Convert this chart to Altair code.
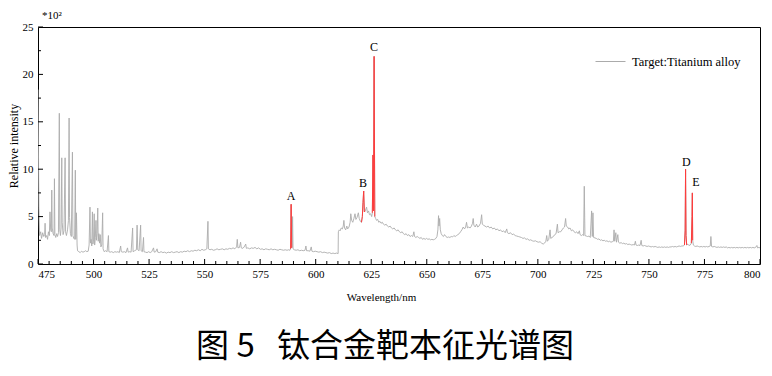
import altair as alt
import pandas as pd

# ---------------- data ----------------
LEGEND_LABEL = "Target:Titanium alloy"

SEG_475_510 = [
    (475.0, 18.4), (475.4, 6.0), (475.7, 3.0), (476.2, 3.4), (476.6, 2.7), (477.1, 3.3),
    (477.6, 2.9), (478.0, 3.1), (478.2, 4.3), (478.4, 2.8), (478.9, 3.0), (479.3, 2.6),
    (479.7, 3.4), (480.1, 3.0), (480.4, 5.5), (480.7, 3.6), (481.0, 3.4), (481.2, 7.8),
    (481.4, 3.8), (481.8, 3.2), (482.2, 3.0), (482.4, 9.0), (482.6, 3.1), (483.0, 2.8),
    (483.4, 3.2), (483.8, 2.9), (484.2, 3.3), (484.6, 15.9), (484.8, 3.6), (485.1, 3.0),
    (485.4, 3.8), (485.7, 11.2), (485.9, 4.4), (486.3, 3.1), (486.7, 3.5), (487.2, 11.2),
    (487.4, 3.4), (487.8, 3.0), (488.3, 3.6), (488.7, 4.6), (489.0, 15.4), (489.2, 4.9),
    (489.6, 3.2), (490.0, 2.9), (490.5, 11.8), (490.7, 3.0), (491.1, 2.7), (491.5, 2.6),
    (491.8, 9.9), (492.0, 2.6), (492.3, 5.4), (492.6, 2.0), (492.8, 1.4), (493.4, 1.3),
    (494.0, 1.2), (494.6, 1.35), (495.2, 1.25), (495.8, 1.3), (496.4, 1.4), (497.0, 1.3),
    (497.6, 1.35), (498.0, 2.0), (498.4, 6.0), (498.6, 2.2), (498.9, 2.6), (499.2, 1.9),
    (499.5, 5.5), (499.7, 2.1), (500.0, 2.4), (500.3, 5.3), (500.5, 2.0), (500.8, 2.8),
    (501.1, 4.6), (501.3, 2.5), (501.6, 3.2), (501.9, 5.9), (502.1, 2.4), (502.4, 3.2),
    (502.7, 2.2), (503.0, 3.1), (503.3, 1.8), (503.7, 2.0), (504.1, 5.4), (504.3, 1.6),
    (504.8, 1.3), (505.4, 1.4), (506.1, 1.3), (506.7, 3.0), (506.9, 1.3), (507.5, 1.25),
    (508.2, 1.3), (508.9, 1.2), (509.6, 1.3),
]

SEG_510_550 = [
    (510.3, 1.25), (511.0, 1.3), (511.6, 1.2), (512.2, 1.9), (512.5, 1.3), (513.2, 1.25),
    (513.9, 1.3), (514.6, 1.2), (515.3, 1.7), (515.6, 1.25), (516.3, 1.3), (516.9, 1.25),
    (517.6, 3.8), (517.8, 1.3), (518.5, 1.4), (519.3, 1.5), (519.6, 4.1), (519.9, 1.5),
    (520.5, 1.4), (521.2, 4.1), (521.4, 1.4), (522.0, 1.3), (522.5, 2.8), (522.7, 1.3),
    (523.4, 1.25), (524.1, 1.2), (524.8, 1.3), (525.5, 1.2), (526.2, 1.3), (527.0, 1.7),
    (527.3, 1.25), (528.0, 1.3), (528.6, 1.6), (528.9, 1.25), (529.6, 1.2), (530.4, 1.3),
    (531.2, 1.2), (532.0, 1.25), (532.8, 1.15), (533.6, 1.25), (534.4, 1.2), (535.2, 1.3),
    (536.0, 1.2), (536.8, 1.25), (537.6, 1.3), (538.4, 1.2), (539.2, 1.3), (540.0, 1.25),
    (540.8, 1.35), (541.6, 1.3), (542.4, 1.4), (543.2, 1.3), (544.0, 1.4), (544.8, 1.35),
    (545.6, 1.45), (546.4, 1.4), (547.2, 1.5), (548.0, 1.4), (548.8, 1.55), (549.6, 1.45),
]

SEG_550_610 = [
    (550.3, 1.5), (551.0, 1.6), (551.5, 4.5), (551.7, 1.6), (552.4, 1.5), (553.2, 1.55),
    (554.0, 1.45), (554.8, 1.5), (555.6, 1.6), (556.4, 1.5), (557.2, 1.55), (558.0, 1.6),
    (558.8, 1.5), (559.6, 1.6), (560.4, 1.55), (561.2, 1.65), (562.0, 1.6), (562.8, 1.7),
    (563.6, 1.6), (564.4, 1.8), (564.7, 2.6), (565.0, 1.7), (565.7, 1.75), (566.2, 2.3),
    (566.5, 1.7), (567.2, 1.65), (567.8, 1.8), (568.5, 2.1), (568.8, 1.65), (569.5, 1.7),
    (570.3, 1.6), (571.1, 1.7), (571.9, 1.65), (572.7, 1.75), (573.5, 1.6), (574.3, 1.7),
    (575.1, 1.55), (575.9, 1.6), (576.7, 1.5), (577.5, 1.6), (578.3, 1.55), (579.1, 1.5),
    (579.9, 1.6), (580.7, 1.5), (581.5, 1.55), (582.3, 1.5), (583.1, 1.45), (583.9, 1.55),
    (584.7, 1.5), (585.5, 1.45), (586.3, 1.5), (587.1, 1.45), (587.8, 1.5), (588.4, 1.45),
    (588.7, 1.6), (588.95, 6.3), (589.2, 1.7), (589.4, 1.8), (589.6, 5.0), (589.8, 1.6),
    (590.4, 1.5), (591.2, 1.45), (592.0, 1.5), (592.8, 1.4), (593.6, 1.45), (594.4, 1.4),
    (595.2, 1.45), (595.6, 1.9), (595.9, 1.4), (596.6, 1.4), (597.4, 1.35), (598.0, 1.8),
    (598.3, 1.35), (599.0, 1.3), (599.8, 1.35), (600.6, 1.3), (601.4, 1.25), (602.2, 1.3),
    (603.0, 1.2), (603.8, 1.25), (604.6, 1.2), (605.4, 1.15), (606.2, 1.2), (607.0, 1.1),
    (607.8, 1.15), (608.6, 1.1), (609.4, 1.15), (610.1, 1.1),
]

SEG_610_660 = [
    (610.2, 3.4), (610.6, 3.6), (611.0, 3.5), (611.5, 3.8), (612.0, 3.7), (612.4, 4.0),
    (612.7, 4.6), (613.0, 3.8), (613.5, 3.6), (614.0, 4.0), (614.4, 3.7), (615.0, 3.9),
    (615.5, 4.4), (615.8, 5.3), (616.2, 4.6), (616.7, 4.4), (617.2, 4.8), (617.7, 5.3),
    (618.1, 4.7), (618.6, 4.9), (619.2, 5.4), (619.6, 4.8), (620.1, 4.5), (620.6, 4.4),
    (621.0, 5.0), (621.3, 6.5), (621.6, 7.7), (621.9, 5.5), (622.3, 5.6), (622.9, 6.0),
    (623.3, 5.4), (623.8, 5.6), (624.2, 5.2), (624.7, 5.3), (625.2, 5.0), (625.5, 5.4),
    (625.8, 11.5), (626.0, 5.6), (626.3, 21.9), (626.6, 5.0), (627.0, 4.8), (627.4, 4.6),
    (627.9, 4.7), (628.4, 4.4), (628.9, 4.5), (629.4, 4.3), (630.0, 4.4), (630.5, 4.2),
    (631.1, 4.1), (631.7, 4.2), (632.3, 4.0), (632.9, 3.9), (633.5, 4.0), (634.1, 3.8),
    (634.7, 3.7), (635.3, 3.8), (635.9, 3.6), (636.5, 3.5), (637.1, 3.6), (637.7, 3.4),
    (638.3, 3.3), (638.9, 3.4), (639.5, 3.2), (640.1, 3.1), (640.7, 3.2), (641.3, 3.0),
    (641.9, 3.1), (642.5, 2.9), (643.1, 3.0), (643.7, 2.9), (644.2, 3.4), (644.5, 2.9),
    (645.1, 2.8), (645.7, 2.9), (646.3, 2.8), (646.9, 2.7), (647.5, 2.8), (648.1, 2.6),
    (648.7, 2.7), (649.3, 2.6), (649.9, 2.7), (650.5, 2.6), (651.1, 2.65), (651.7, 2.55),
    (652.3, 2.6), (652.9, 2.55), (653.5, 2.6), (654.1, 2.7), (654.6, 2.9), (655.0, 3.6),
    (655.3, 5.1), (655.5, 4.0), (655.8, 4.8), (656.1, 3.6), (656.5, 3.2), (657.0, 3.0),
    (657.5, 2.9), (658.0, 3.1), (658.6, 2.9), (659.2, 2.8),
]

SEG_660_710 = [
    (659.8, 2.85), (660.4, 2.8), (661.0, 2.9), (661.6, 2.85), (662.2, 3.0), (662.8, 2.9),
    (663.4, 3.0), (664.0, 3.1), (664.6, 3.2), (665.2, 3.4), (665.8, 3.6), (666.4, 3.9),
    (667.0, 3.7), (667.5, 3.9), (667.9, 4.4), (668.3, 3.8), (668.9, 3.9), (669.5, 3.8),
    (670.1, 4.0), (670.6, 4.3), (670.9, 4.8), (671.2, 4.1), (671.8, 3.9), (672.4, 4.2),
    (672.9, 3.9), (673.5, 4.0), (674.2, 4.3), (674.7, 5.2), (675.0, 4.2), (675.5, 4.1),
    (676.2, 4.0), (676.9, 3.9), (677.6, 4.0), (678.3, 3.8), (679.0, 3.9), (679.7, 3.7),
    (680.4, 3.8), (681.1, 3.6), (681.8, 3.7), (682.5, 3.5), (683.2, 3.6), (683.9, 3.4),
    (684.6, 3.5), (685.3, 3.3), (686.0, 3.7), (686.3, 3.3), (687.0, 3.2), (687.7, 3.3),
    (688.4, 3.1), (689.1, 3.15), (689.8, 3.0), (690.5, 2.95), (691.2, 2.9), (691.9, 2.85),
    (692.6, 2.8), (693.3, 2.7), (694.0, 2.75), (694.7, 2.6), (695.4, 2.65), (696.1, 2.5),
    (696.8, 2.55), (697.5, 2.45), (698.2, 2.4), (698.9, 2.45), (699.6, 2.35), (700.3, 2.3),
    (701.0, 2.35), (701.7, 2.2), (702.4, 2.1), (703.0, 2.2), (703.6, 2.4), (704.0, 3.0),
    (704.3, 2.4), (704.9, 2.6), (705.5, 3.6), (705.8, 2.7), (706.4, 2.8), (707.0, 2.9),
    (707.6, 3.1), (708.2, 3.2), (708.8, 4.2), (709.1, 3.3), (709.7, 3.4),
]

SEG_710_760 = [
    (710.3, 3.4), (710.9, 3.6), (711.5, 3.8), (712.0, 3.9), (712.5, 4.8), (712.8, 4.0),
    (713.4, 3.9), (713.9, 3.7), (714.5, 3.8), (715.1, 3.5), (715.7, 3.6), (716.3, 3.4),
    (716.9, 3.3), (717.5, 3.4), (718.1, 3.2), (718.7, 3.5), (719.0, 3.1), (719.6, 3.0),
    (720.2, 3.1), (720.6, 3.0), (720.9, 8.2), (721.2, 3.0), (721.8, 2.95), (722.4, 2.9),
    (723.0, 2.95), (723.6, 2.8), (724.2, 5.6), (724.5, 2.9), (724.8, 5.4), (725.1, 2.8),
    (725.7, 2.75), (726.3, 2.7), (726.9, 2.6), (727.5, 2.65), (728.1, 2.5), (728.7, 2.55),
    (729.3, 2.45), (729.9, 2.5), (730.5, 2.4), (731.1, 2.45), (731.7, 2.35), (732.3, 2.4),
    (732.9, 2.3), (733.5, 2.35), (734.0, 2.4), (734.3, 3.6), (734.6, 2.4), (735.1, 3.3),
    (735.4, 2.3), (736.0, 3.1), (736.3, 2.3), (736.9, 2.2), (737.5, 2.25), (738.1, 2.15),
    (738.7, 2.2), (739.3, 2.1), (739.9, 2.15), (740.5, 2.05), (741.1, 2.1), (741.7, 2.05),
    (742.3, 2.0), (742.9, 2.05), (743.5, 2.0), (743.9, 2.4), (744.2, 2.0), (744.8, 1.95),
    (745.4, 2.0), (746.0, 1.95), (746.5, 2.5), (746.8, 1.95), (747.4, 1.9), (748.0, 1.95),
    (748.6, 1.9), (749.2, 1.85), (749.8, 1.9), (750.4, 1.85), (751.0, 1.8), (751.6, 1.85),
    (752.2, 1.8), (752.8, 1.85), (753.4, 1.8), (754.0, 1.75), (754.6, 1.8), (755.2, 1.75),
    (755.8, 1.8), (756.4, 1.75), (757.0, 1.8), (757.6, 1.75), (758.2, 1.8), (758.8, 1.75),
    (759.4, 1.8),
]

SEG_760_800 = [
    (760.0, 1.8), (760.6, 1.85), (761.2, 1.8), (761.8, 1.85), (762.4, 1.8), (763.0, 1.85),
    (763.6, 1.9), (764.2, 1.85), (764.8, 1.9), (765.4, 1.9), (766.0, 2.0), (766.3, 3.5),
    (766.5, 10.0), (766.7, 3.0), (767.0, 2.0), (767.5, 2.1), (768.0, 1.95), (768.6, 2.0),
    (769.1, 2.2), (769.4, 5.0), (769.55, 7.5), (769.7, 2.5), (770.0, 2.0), (770.5, 1.9),
    (771.1, 1.85), (771.7, 1.9), (772.3, 1.85), (772.9, 1.8), (773.5, 1.85), (774.1, 1.8),
    (774.7, 1.85), (775.3, 1.8), (775.9, 1.85), (776.5, 1.8), (777.1, 1.85), (777.6, 1.9),
    (777.9, 2.9), (778.2, 1.85), (778.8, 1.8), (779.4, 1.85), (780.0, 1.8), (780.6, 1.75),
    (781.2, 1.8), (781.8, 1.75), (782.4, 1.8), (783.0, 1.75), (783.6, 1.8), (784.2, 1.75),
    (784.8, 1.8), (785.4, 1.7), (786.0, 1.75), (786.6, 1.7), (787.2, 1.75), (787.8, 1.7),
    (788.4, 1.75), (789.0, 1.7), (789.6, 1.75), (790.2, 1.7), (790.8, 1.75), (791.4, 1.7),
    (792.0, 1.75), (792.6, 1.7), (793.2, 1.75), (793.8, 1.7), (794.4, 1.75), (795.0, 1.7),
    (795.6, 1.75), (796.2, 1.7), (796.8, 1.75), (797.4, 1.7), (798.0, 1.75), (798.6, 1.95),
    (798.9, 1.7), (799.5, 1.75), (800.0, 1.7),
]

# highlighted (red) peaks: name, wavelength window, label position
PEAK_NAMES = ["A", "B", "C", "D", "E"]
PEAK_WINDOWS = [(588.7, 589.2), (620.6, 622.3), (625.5, 626.6), (766.0, 767.0), (769.1, 769.7)]
LABEL_WL = [588.9, 621.3, 626.2, 766.8, 771.2]
LABEL_Y = [7.2, 8.5, 22.85, 10.8, 8.6]

X_MAJOR = [475, 500, 525, 550, 575, 600, 625, 650, 675, 700, 725, 750, 775, 800]
X_MINOR = [480, 485, 490, 495, 505, 510, 515, 520, 530, 535, 540, 545, 555, 560, 565, 570,
           580, 585, 590, 595, 605, 610, 615, 620, 630, 635, 640, 645, 655, 660, 665, 670,
           680, 685, 690, 695, 705, 710, 715, 720, 730, 735, 740, 745, 755, 760, 765, 770,
           780, 785, 790, 795]
Y_MAJOR = [0, 5, 10, 15, 20, 25]
Y_MINOR = [2.5, 7.5, 12.5, 17.5, 22.5]

SCALE_NOTE = "*10\u00b2"
CAPTION = "图\u00a05\u00a0\u00a0\u00a0钛合金靶本征光谱图"

# ---------------- build tables ----------------
spectrum = SEG_475_510 + SEG_510_550 + SEG_550_610 + SEG_610_660 + SEG_660_710 + SEG_710_760 + SEG_760_800
df = pd.DataFrame(spectrum, columns=["wl", "inten"])
df["series"] = LEGEND_LABEL

red_parts = []
for name, (lo, hi) in zip(PEAK_NAMES, PEAK_WINDOWS):
    part = df[(df["wl"] >= lo) & (df["wl"] <= hi)].copy()
    part["peak"] = name
    red_parts.append(part)
red_df = pd.concat(red_parts, ignore_index=True)

labels_df = pd.DataFrame({"name": PEAK_NAMES, "wl": LABEL_WL, "inten": LABEL_Y})
xmaj_df = pd.DataFrame({"wl": X_MAJOR})
xmin_df = pd.DataFrame({"wl": X_MINOR})
ymaj_df = pd.DataFrame({"inten": Y_MAJOR})
ymin_df = pd.DataFrame({"inten": Y_MINOR})

W, H = 722, 237
SERIF = "'Liberation Serif', 'Times New Roman', 'DejaVu Serif', serif"
GREY = "#ababab"
RED = "#ff3b3b"

xs = alt.Scale(domain=[475, 800], nice=False, zero=False)
ys = alt.Scale(domain=[0, 25], nice=False, zero=False)

x_main = alt.Axis(values=X_MAJOR, ticks=False, domain=False, grid=False,
                  labelFont=SERIF, labelFontSize=11, labelColor="black", labelPadding=4,
                  title="Wavelength/nm", titleFont=SERIF, titleFontSize=11,
                  titleFontWeight="normal", titleColor="black", titlePadding=12,
                  titleX=343, titleAnchor="start", titleAlign="center")
y_main = alt.Axis(values=Y_MAJOR, ticks=False, domain=False, grid=False,
                  labelFont=SERIF, labelFontSize=11, labelColor="black", labelPadding=5,
                  title="Relative intensity", titleFont=SERIF, titleFontSize=12,
                  titleFontWeight="normal", titleColor="black", titlePadding=2)

X_ENC = alt.X("wl:Q", scale=xs, axis=x_main)
Y_ENC = alt.Y("inten:Q", scale=ys, axis=y_main)

line = alt.Chart(df).mark_line(strokeWidth=0.9, clip=True).encode(
    x=X_ENC,
    y=Y_ENC,
    color=alt.Color("series:N", scale=alt.Scale(domain=[LEGEND_LABEL], range=[GREY]),
                    legend=alt.Legend(orient="none", legendX=557, legendY=19, title=None,
                                      symbolType="stroke", symbolSize=900, symbolStrokeWidth=1,
                                      labelFont=SERIF, labelFontSize=12.5, labelColor="black",
                                      labelOffset=6)),
)

red = alt.Chart(red_df).mark_line(strokeWidth=1, clip=True, color=RED).encode(
    x=X_ENC, y=Y_ENC, detail="peak:N",
)

# inward ticks on the bottom and left edges
x_major_ticks = alt.Chart(xmaj_df).mark_rule(color="black", strokeWidth=1).encode(
    x=X_ENC, y=alt.value(H), y2=alt.value(H - 5))
x_minor_ticks = alt.Chart(xmin_df).mark_rule(color="black", strokeWidth=1).encode(
    x=X_ENC, y=alt.value(H), y2=alt.value(H - 3))
y_major_ticks = alt.Chart(ymaj_df).mark_rule(color="black", strokeWidth=1).encode(
    y=Y_ENC, x=alt.value(0), x2=alt.value(5))
y_minor_ticks = alt.Chart(ymin_df).mark_rule(color="black", strokeWidth=1).encode(
    y=Y_ENC, x=alt.value(0), x2=alt.value(3))

letters = alt.Chart(labels_df).mark_text(font=SERIF, fontSize=12, color="black",
                                         baseline="middle", align="center").encode(
    x=X_ENC, y=Y_ENC, text="name:N",
)

note = alt.Chart(pd.DataFrame({"t": [SCALE_NOTE]})).mark_text(
    font=SERIF, fontSize=11, color="black", align="left", baseline="alphabetic"
).encode(x=alt.value(4), y=alt.value(-8), text="t:N")

caption = alt.Chart(pd.DataFrame({"t": [CAPTION]})).mark_text(
    font="Noto Sans CJK SC", fontSize=33, color="black", align="center", baseline="alphabetic"
).encode(x=alt.value(347), y=alt.value(330), text="t:N")

chart = alt.layer(line, red, x_major_ticks, x_minor_ticks, y_major_ticks, y_minor_ticks,
                  letters, note, caption).properties(
    width=W, height=H,
    autosize=alt.AutoSizeParams(type="none"),
    padding={"left": 30, "top": 19, "right": 2, "bottom": 104},
    background="white",
).configure_view(stroke="black", strokeWidth=1)

chart.save("out.html", embed_options={"renderer": "svg", "actions": False})
